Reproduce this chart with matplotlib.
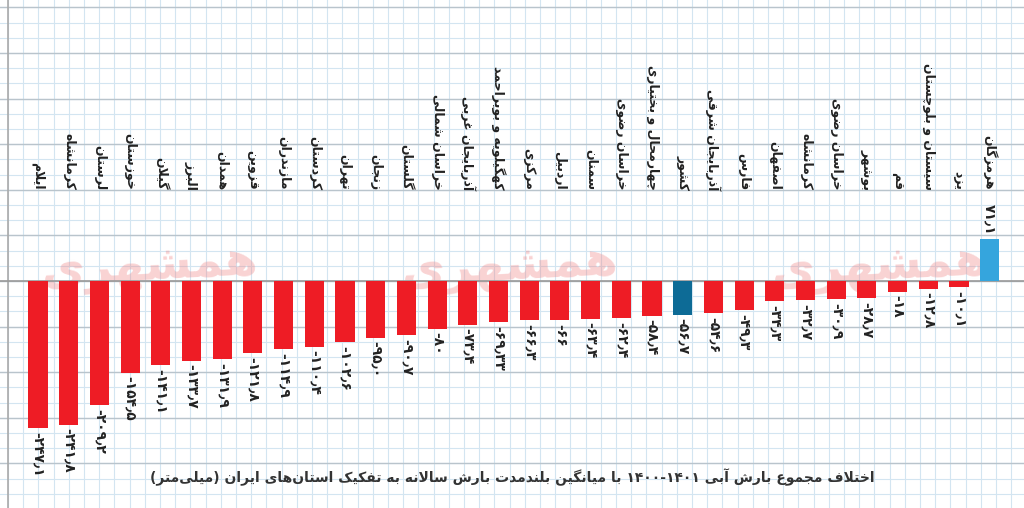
import matplotlib
matplotlib.use("Agg")
import matplotlib.pyplot as plt
import numpy as np

provinces = ["ایلام", "کرمانشاه", "لرستان", "خوزستان", "گیلان", "البرز", "همدان", "قزوین",
             "مازندران", "کردستان", "تهران", "زنجان", "گلستان", "خراسان شمالی", "آذربایجان غربی",
             "کهگیلویه و بویراحمد", "مرکزی", "اردبیل", "سمنان", "خراسان رضوی",
             "چهارمحال و بختیاری", "کشور", "آذربایجان شرقی", "فارس", "اصفهان", "کرمانشاه",
             "خراسان رضوی", "بوشهر", "قم", "سیستان و بلوچستان", "یزد", "هرمزگان"]
values = [-247.1, -241.8, -209.2, -154.5, -141.1, -133.7, -131.9, -121.8, -114.9, -110.4,
          -102.6, -95.0, -90.7, -80, -73.4, -69.33, -66.3, -66, -63.4, -62.4, -58.4, -56.7,
          -54.6, -49.3, -34.3, -32.7, -30.9, -28.7, -18, -12.8, -10.1, 71.1]
value_labels = ["۲۴۷٫۱", "۲۴۱٫۸", "۲۰۹٫۲", "۱۵۴٫۵", "۱۴۱٫۱", "۱۳۳٫۷", "۱۳۱٫۹", "۱۲۱٫۸",
                "۱۱۴٫۹", "۱۱۰٫۴", "۱۰۲٫۶", "۹۵٫۰", "۹۰٫۷", "۸۰", "۷۳٫۴", "۶۹٫۳۳", "۶۶٫۳",
                "۶۶", "۶۳٫۴", "۶۲٫۴", "۵۸٫۴", "۵۶٫۷", "۵۴٫۶", "۴۹٫۳", "۳۴٫۳", "۳۲٫۷",
                "۳۰٫۹", "۲۸٫۷", "۱۸", "۱۲٫۸", "۱۰٫۱", "۷۱٫۱"]
title = "اختلاف مجموع بارش آبی ۱۴۰۱-۱۴۰۰ با میانگین بلندمدت بارش سالانه به تفکیک استان‌های ایران (میلی‌متر)"

# minimal Arabic/Persian shaper
F = {
 'ا': (0xFE8D, 0xFE8E, None, None), 'آ': (0xFE81, 0xFE82, None, None),
 'ب': (0xFE8F, 0xFE90, 0xFE91, 0xFE92), 'پ': (0xFB56, 0xFB57, 0xFB58, 0xFB59),
 'ت': (0xFE95, 0xFE96, 0xFE97, 0xFE98), 'ث': (0xFE99, 0xFE9A, 0xFE9B, 0xFE9C),
 'ج': (0xFE9D, 0xFE9E, 0xFE9F, 0xFEA0), 'چ': (0xFB7A, 0xFB7B, 0xFB7C, 0xFB7D),
 'ح': (0xFEA1, 0xFEA2, 0xFEA3, 0xFEA4), 'خ': (0xFEA5, 0xFEA6, 0xFEA7, 0xFEA8),
 'د': (0xFEA9, 0xFEAA, None, None), 'ذ': (0xFEAB, 0xFEAC, None, None),
 'ر': (0xFEAD, 0xFEAE, None, None), 'ز': (0xFEAF, 0xFEB0, None, None),
 'ژ': (0xFB8A, 0xFB8B, None, None),
 'س': (0xFEB1, 0xFEB2, 0xFEB3, 0xFEB4), 'ش': (0xFEB5, 0xFEB6, 0xFEB7, 0xFEB8),
 'ص': (0xFEB9, 0xFEBA, 0xFEBB, 0xFEBC), 'ض': (0xFEBD, 0xFEBE, 0xFEBF, 0xFEC0),
 'ط': (0xFEC1, 0xFEC2, 0xFEC3, 0xFEC4), 'ظ': (0xFEC5, 0xFEC6, 0xFEC7, 0xFEC8),
 'ع': (0xFEC9, 0xFECA, 0xFECB, 0xFECC), 'غ': (0xFECD, 0xFECE, 0xFECF, 0xFED0),
 'ف': (0xFED1, 0xFED2, 0xFED3, 0xFED4), 'ق': (0xFED5, 0xFED6, 0xFED7, 0xFED8),
 'ک': (0xFB8E, 0xFB8F, 0xFB90, 0xFB91), 'گ': (0xFB92, 0xFB93, 0xFB94, 0xFB95),
 'ل': (0xFEDD, 0xFEDE, 0xFEDF, 0xFEE0), 'م': (0xFEE1, 0xFEE2, 0xFEE3, 0xFEE4),
 'ن': (0xFEE5, 0xFEE6, 0xFEE7, 0xFEE8), 'و': (0xFEED, 0xFEEE, None, None),
 'ه': (0xFEE9, 0xFEEA, 0xFEEB, 0xFEEC), 'ی': (0xFBFC, 0xFBFD, 0xFBFE, 0xFBFF),
}

def joins_next(c):
    return c in F and F[c][2] is not None

def shape_word(w):
    out = []
    chars = list(w)
    i = 0
    n = len(chars)
    while i < n:
        c = chars[i]
        if c not in F:
            if c != '\u200c':
                out.append(c)
            i += 1
            continue
        prev = chars[i - 1] if i > 0 else ''
        pj = joins_next(prev)
        if c == 'ل' and i + 1 < n and chars[i + 1] == 'ا':
            out.append(chr(0xFEFC if pj else 0xFEFB))
            i += 2
            continue
        nxt = chars[i + 1] if i + 1 < n else ''
        nj = nxt in F and joins_next(c)
        iso, fin, ini, med = F[c]
        if pj and nj:
            g = med
        elif pj:
            g = fin
        elif nj:
            g = ini
        else:
            g = iso
        out.append(chr(g))
        i += 1
    return ''.join(out)

MIRROR = str.maketrans('()', ')(')

def is_rtl(tok):
    return any(ch in F for ch in tok)

def bidi(s):
    toks = s.split(' ')
    res = []
    for t in toks:
        if is_rtl(t):
            sh = shape_word(t)
            res.append(sh[::-1].translate(MIRROR))
        elif '-' in t:
            res.append('-'.join(t.split('-')[::-1]))
        else:
            res.append(t)
    return ' '.join(res[::-1])

W, H = 1024, 508
fig = plt.figure(figsize=(W / 100, H / 100), dpi=100)
bg = fig.add_axes([0, 0, 1, 1])
bg.set_xlim(0, W); bg.set_ylim(H, 0); bg.axis('off')
for x in np.arange(8, W, 15.2):
    bg.axvline(x, color='#d3e5f1', lw=0.8, zorder=0)
for y in np.arange(281 % 15.2, H, 15.2):
    bg.axhline(y, color='#d3e5f1', lw=0.8, zorder=0)
for y in np.arange(281 - 45.6 * 6, H, 45.6):
    bg.axhline(y, color='#b9c4cc', lw=1.0, zorder=0)
bg.axvline(8, color='#aaaaaa', lw=1.2)

ax = fig.add_axes([0, 0, 1, 1], facecolor='none')
scale = 0.595
sp = 30.7
ax.set_xlim(-38 / sp, (W - 38) / sp)
ax.set_ylim(-(H - 281) / scale, 281 / scale)
ax.axis('off')

x = np.arange(len(values))
colors = ['#ee1c25'] * len(values)
colors[provinces.index("کشور")] = '#0d6b96'
colors[-1] = '#35a5dd'
ax.bar(x, values, width=0.62, color=colors, zorder=3)
ax.axhline(0, color='#9a9a9a', lw=1.2, zorder=2)

fam = ['DejaVu Sans']
for xi, v, lab, name in zip(x, values, value_labels, provinces):
    s = ('-' + lab) if v < 0 else lab
    if v < 0:
        ax.text(xi, v - 6, s, rotation=270, ha='center', va='top', fontsize=10,
                fontweight='bold', color='#222222', family=fam, zorder=4)
    else:
        ax.text(xi, v + 6, s, rotation=270, ha='center', va='bottom', fontsize=10,
                fontweight='bold', color='#222222', family=fam, zorder=4)
    ax.text(xi, (281 - 190) / scale, bidi(name), rotation=270, ha='center', va='bottom',
            fontsize=9, fontweight='bold', color='#222222', family=fam, zorder=4)

for wx in [150, 510, 880]:
    bg.text(wx, 268, bidi("همشهری"), ha='center', va='center', fontsize=34,
            fontweight='bold', color='#f08080', alpha=0.35, family=fam, zorder=1, rotation=3)

bg.text(512, 477, bidi(title), ha='center', va='center', fontsize=10, fontweight='bold',
        color='#333333', family=fam, zorder=5)

fig.savefig('out.png', dpi=100)
